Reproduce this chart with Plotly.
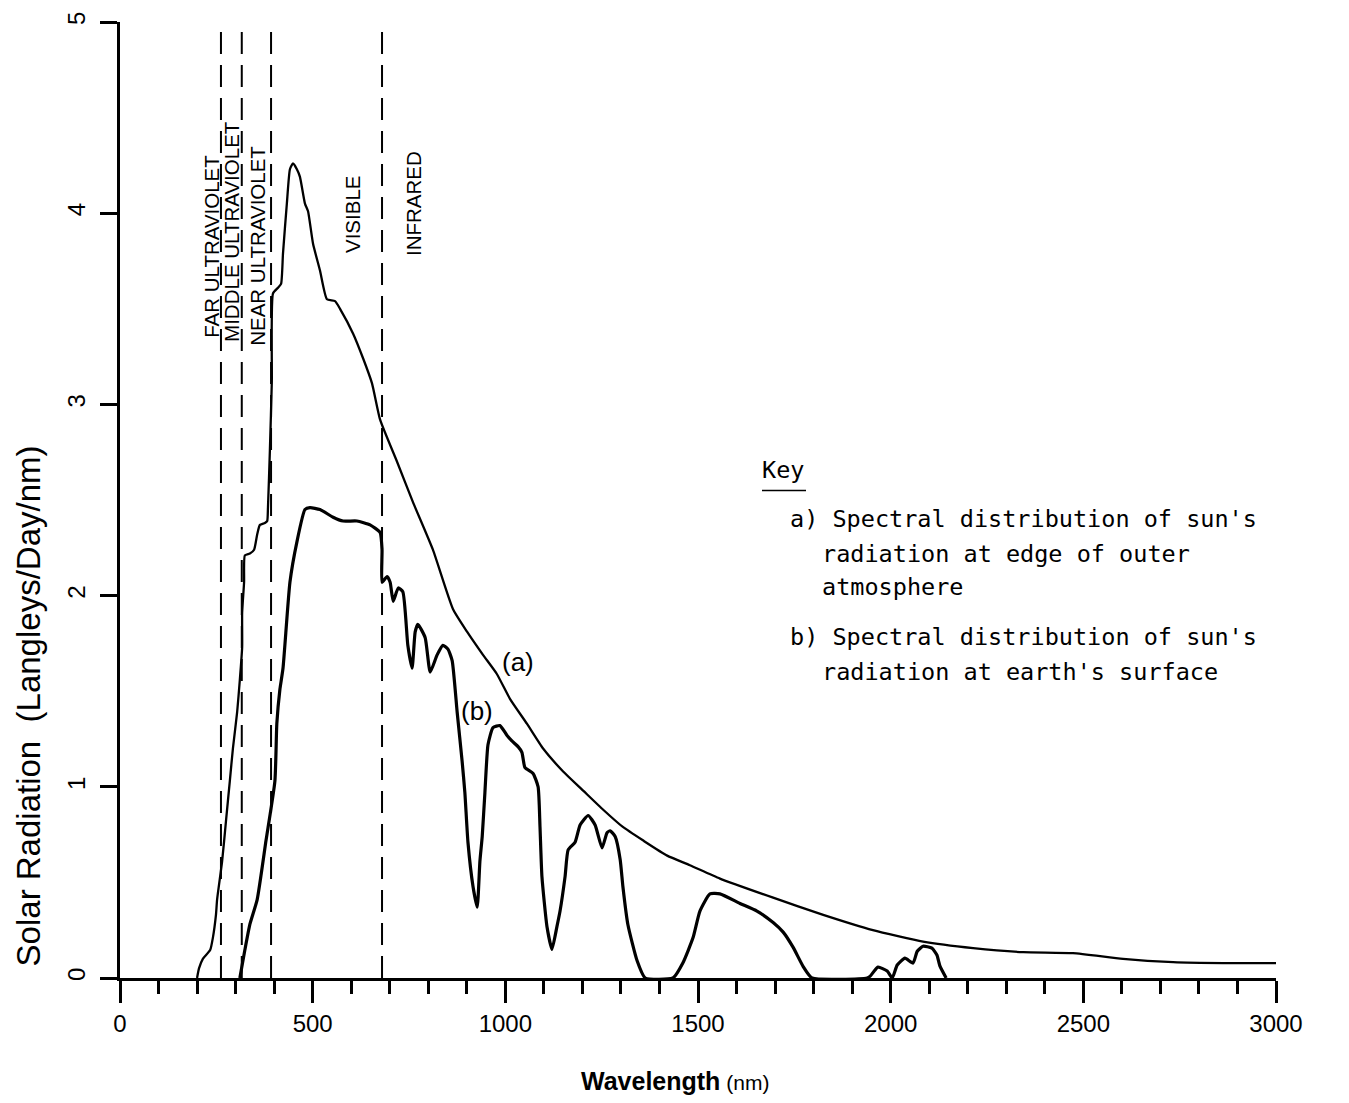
import plotly.graph_objects as go

# ---- data ----
# (a) spectral distribution at edge of outer atmosphere
wl_a = [200, 205, 215, 234, 241, 249, 252, 265, 275, 285, 293, 304, 311, 317, 317, 322, 324,
        337, 348, 356, 363, 376, 382, 384, 389, 394, 397, 410, 418, 423, 433, 441, 449, 459,
        467, 480, 488, 501, 519, 537, 558, 571, 605, 631, 654, 675, 719, 760, 812, 864, 901,
        942, 978, 1012, 1056, 1098, 1150, 1202, 1254, 1305, 1357, 1420, 1479, 1557, 1695,
        1825, 1954, 2084, 2214, 2344, 2473, 2603, 2733, 2863, 3000]
sr_a = [0.0, 0.05, 0.10, 0.146, 0.21, 0.33, 0.41, 0.61, 0.82, 1.03, 1.20, 1.39, 1.56, 1.73, 1.91,
        2.07, 2.21, 2.22, 2.24, 2.32, 2.37, 2.38, 2.39, 2.46, 2.76, 3.12, 3.58, 3.61, 3.63, 3.79,
        4.05, 4.23, 4.26, 4.23, 4.19, 4.05, 4.01, 3.84, 3.70, 3.55, 3.54, 3.50, 3.37, 3.24, 3.11,
        2.92, 2.70, 2.49, 2.24, 1.93, 1.81, 1.69, 1.59, 1.46, 1.33, 1.20, 1.08, 0.98, 0.88, 0.79,
        0.72, 0.64, 0.59, 0.52, 0.42, 0.33, 0.25, 0.19, 0.156, 0.135, 0.13, 0.10, 0.083, 0.078,
        0.078]

# (b) spectral distribution at earth's surface
wl_b = [311, 324, 337, 356, 379, 402, 407, 415, 423, 441, 459, 480, 493, 519, 553, 579, 615,
        649, 675, 680, 680, 693, 701, 709, 722, 734, 747, 758, 766, 773, 792, 805, 823, 838,
        851, 862, 875, 888, 895, 903, 916, 927, 934, 940, 947, 955, 968, 986, 1004, 1017, 1033,
        1043, 1051, 1072, 1085, 1090, 1095, 1108, 1121, 1134, 1142, 1155, 1163, 1181, 1194,
        1215, 1233, 1251, 1264, 1272, 1285, 1298, 1305, 1318, 1342, 1363, 1435, 1461, 1487,
        1505, 1531, 1557, 1609, 1653, 1695, 1721, 1747, 1773, 1796, 1939, 1947, 1967, 1991,
        2004, 2017, 2037, 2058, 2069, 2084, 2107, 2120, 2128, 2144]
sr_b = [0.0, 0.146, 0.28, 0.41, 0.72, 1.03, 1.33, 1.51, 1.62, 2.07, 2.28, 2.45, 2.46, 2.45, 2.41,
        2.39, 2.39, 2.37, 2.33, 2.24, 2.07, 2.10, 2.07, 1.97, 2.04, 2.02, 1.74, 1.62, 1.81, 1.85,
        1.78, 1.60, 1.69, 1.74, 1.72, 1.66, 1.39, 1.13, 0.97, 0.71, 0.48, 0.37, 0.61, 0.74, 0.97,
        1.22, 1.31, 1.32, 1.27, 1.24, 1.21, 1.18, 1.10, 1.07, 1.00, 0.79, 0.53, 0.27, 0.15, 0.27,
        0.35, 0.53, 0.67, 0.71, 0.80, 0.85, 0.80, 0.68, 0.76, 0.77, 0.74, 0.62, 0.48, 0.28, 0.09,
        0.0, 0.0, 0.08, 0.21, 0.35, 0.44, 0.44, 0.39, 0.35, 0.29, 0.24, 0.16, 0.06, 0.0, 0.0,
        0.01, 0.057, 0.036, 0.0, 0.068, 0.104, 0.078, 0.14, 0.166, 0.156, 0.12, 0.062, 0.0]

region_bounds = [262, 316, 392, 680]
region_labels = ["FAR ULTRAVIOLET", "MIDDLE ULTRAVIOLET", "NEAR ULTRAVIOLET", "VISIBLE", "INFRARED"]
x_ticks = [0, 500, 1000, 1500, 2000, 2500, 3000]
y_ticks = [0, 1, 2, 3, 4, 5]
key_lines = ["a) Spectral distribution of sun's", "radiation at edge of outer", "atmosphere",
             "b) Spectral distribution of sun's", "radiation at earth's surface"]

# ---- layout geometry ----
W, H = 1349, 1103
L, R, T, B = 120, 73, 17, 125
PW, PH = W - L - R, H - T - B


def px(x):
    return (x - L) / PW


def py(y):
    return (H - B - y) / PH


SANS = "Liberation Sans, Arial, sans-serif"
MONO = "DejaVu Sans Mono, monospace"

fig = go.Figure()
fig.add_trace(go.Scatter(x=wl_a, y=sr_a, mode="lines",
                         line=dict(color="black", width=2.3, shape="spline", smoothing=0.5),
                         hoverinfo="skip", showlegend=False))
fig.add_trace(go.Scatter(x=wl_b, y=sr_b, mode="lines",
                         line=dict(color="black", width=3.2, shape="spline", smoothing=0.5),
                         hoverinfo="skip", showlegend=False))

for xb in region_bounds:
    fig.add_shape(type="line", xref="x", yref="y", x0=xb, x1=xb, y0=0, y1=5,
                  line=dict(color="black", width=2, dash="22px,11px"))

annotations = []
label_pos = [(212, 243), (232, 228), (258, 242), (353, 210), (413, 200)]
for txt, (lx, ly) in zip(region_labels, label_pos):
    annotations.append(dict(text=txt, x=px(lx), y=py(ly), xref="paper", yref="paper",
                            showarrow=False, textangle=-90, xanchor="center", yanchor="middle",
                            font=dict(family=SANS, size=20.5, color="black")))

annotations.append(dict(text="(a)", x=px(518), y=py(660), xref="paper", yref="paper",
                        showarrow=False, xanchor="center", yanchor="middle",
                        font=dict(family=SANS, size=26, color="black")))
annotations.append(dict(text="(b)", x=px(477), y=py(710), xref="paper", yref="paper",
                        showarrow=False, xanchor="center", yanchor="middle",
                        font=dict(family=SANS, size=26, color="black")))

annotations.append(dict(text="Key", x=px(760), y=py(467), xref="paper", yref="paper",
                        showarrow=False, xanchor="left", yanchor="middle",
                        font=dict(family=MONO, size=23.5, color="black")))
key_pos = [(788, 517), (820, 552), (820, 585), (788, 635), (820, 670)]
for txt, (kx, ky) in zip(key_lines, key_pos):
    annotations.append(dict(text=txt, x=px(kx), y=py(ky), xref="paper", yref="paper",
                            showarrow=False, xanchor="left", yanchor="middle",
                            font=dict(family=MONO, size=23.5, color="black")))

annotations.append(dict(text="Solar Radiation  (Langleys/Day/nm)", x=px(28), y=py(705),
                        xref="paper", yref="paper", showarrow=False, textangle=-90,
                        xanchor="center", yanchor="middle",
                        font=dict(family=SANS, size=33, color="black")))
annotations.append(dict(text="<b>Wavelength</b><span style='font-size:21px'> (nm)</span>",
                        x=px(675), y=py(1082), xref="paper", yref="paper", showarrow=False,
                        xanchor="center", yanchor="middle",
                        font=dict(family=SANS, size=25, color="black")))

fig.add_shape(type="line", xref="paper", yref="paper", x0=px(762), x1=px(806), y0=py(488), y1=py(488),
              line=dict(color="black", width=1.5))

fig.update_layout(
    width=W, height=H, margin=dict(l=L, r=R, t=T, b=B, pad=0),
    paper_bgcolor="white", plot_bgcolor="white", showlegend=False,
    annotations=annotations,
    xaxis=dict(range=[0, 3000], tickvals=x_ticks, ticktext=[str(v) for v in x_ticks],
               showgrid=False, zeroline=False, showline=True, linecolor="black", linewidth=3,
               ticks="outside", ticklen=22, tickwidth=3, tickcolor="black",
               tickfont=dict(family=SANS, size=24, color="black"),
               minor=dict(dtick=100, tick0=0, ticks="outside", ticklen=13, tickwidth=3,
                          tickcolor="black", showgrid=False),
               fixedrange=True),
    yaxis=dict(range=[0, 5], tickvals=y_ticks, ticktext=[str(v) for v in y_ticks],
               showgrid=False, zeroline=False, showline=True, linecolor="black", linewidth=3,
               ticks="outside", ticklen=17, tickwidth=3, tickcolor="black", tickangle=-90,
               ticklabelstandoff=5,
               tickfont=dict(family=SANS, size=24, color="black"), fixedrange=True),
)

fig.write_html("out.html", config={"displayModeBar": False},
               post_script="document.body.style.margin='0';document.body.style.overflow='hidden';")
